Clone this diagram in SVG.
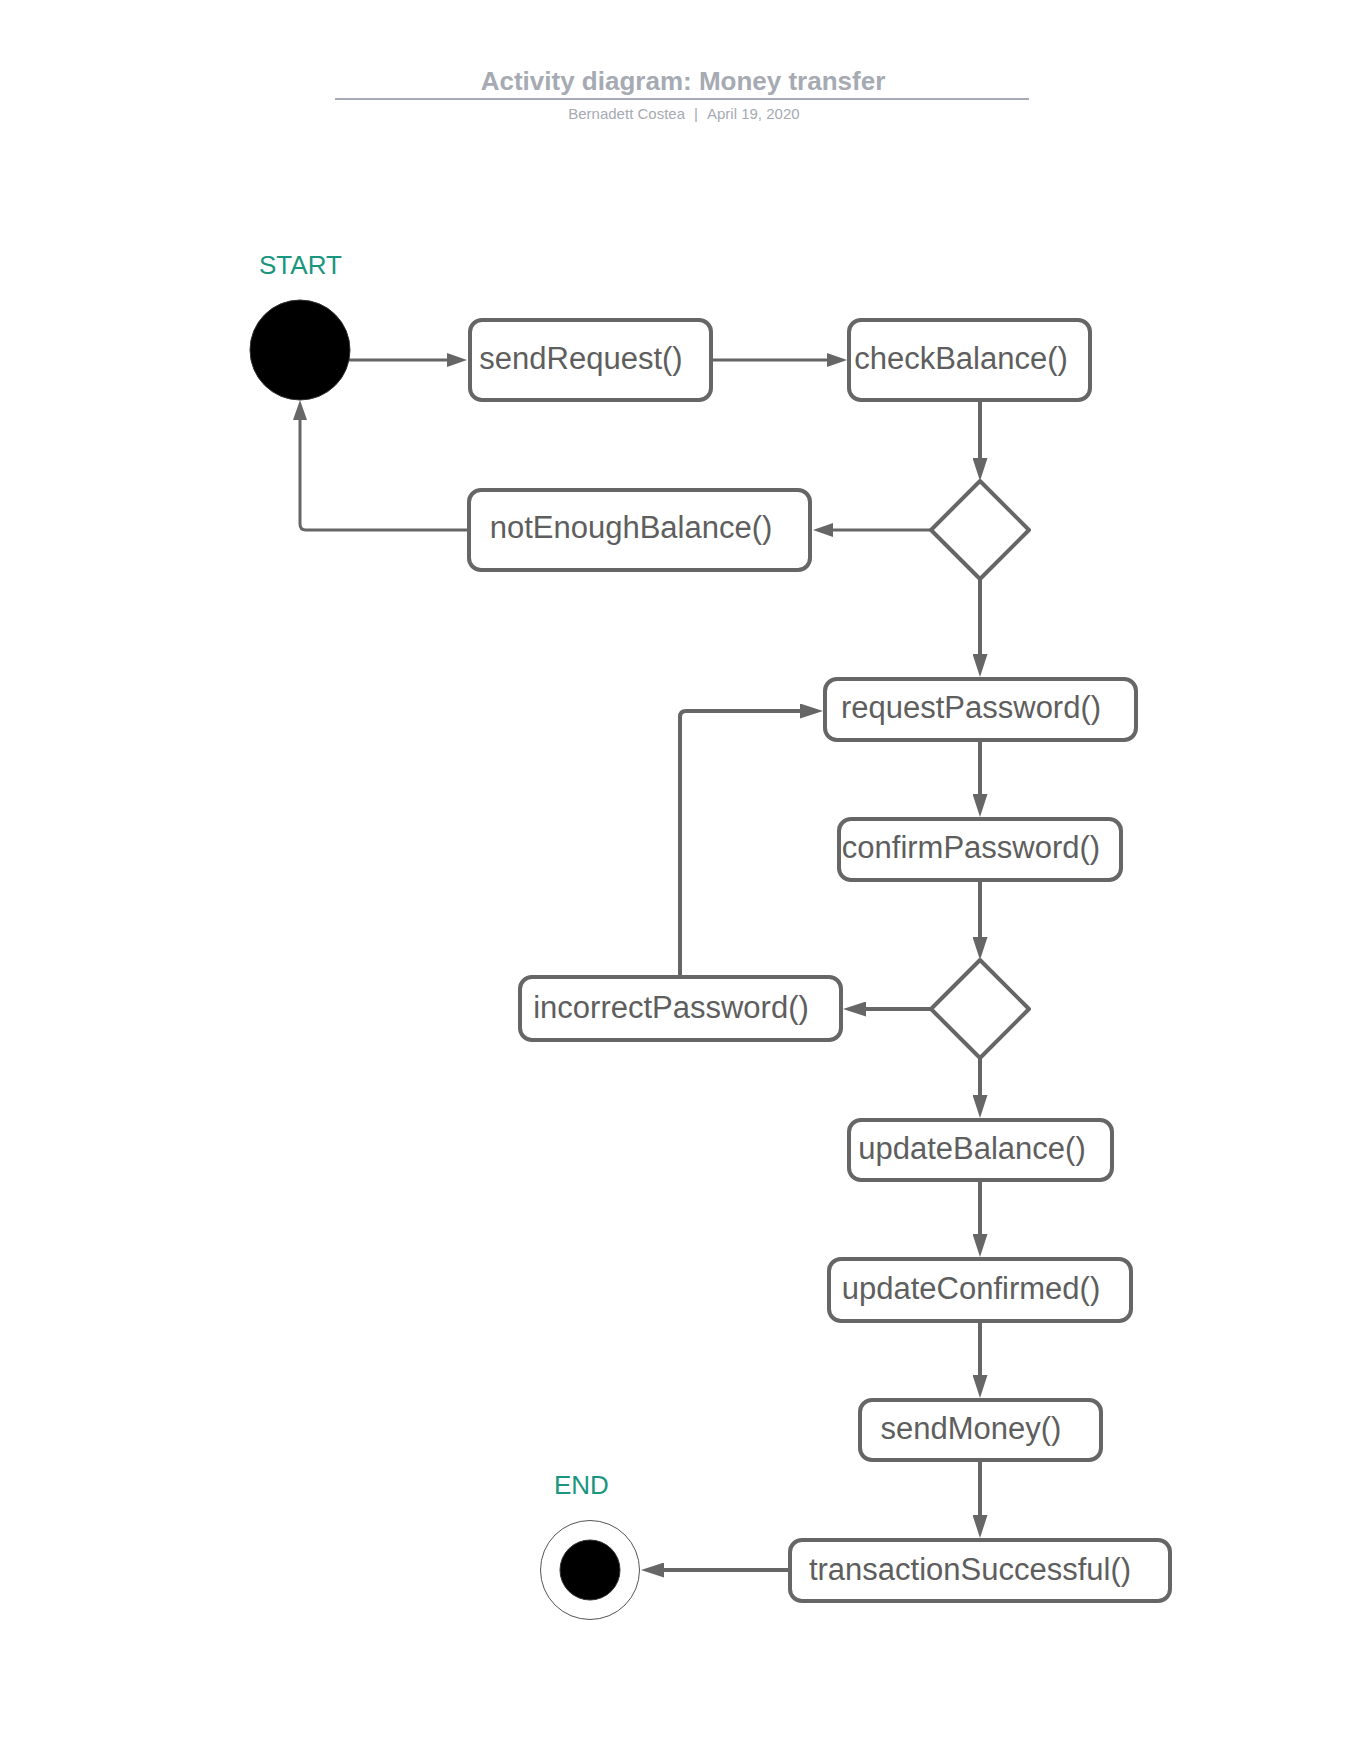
<svg xmlns="http://www.w3.org/2000/svg" width="1360" height="1760" viewBox="0 0 1360 1760">
  <style>
    .title { font-family: "Liberation Sans", Arial, sans-serif; font-size: 26px; font-weight: bold; fill: #a6aab3; }
    .sub { font-family: "Liberation Sans", Arial, sans-serif; font-size: 15px; fill: #a6aab3; }
    .tag { font-family: "Liberation Sans", Arial, sans-serif; font-size: 26px; fill: #19967d; }
    .box { fill: #ffffff; stroke: #666666; stroke-width: 4; }
    .dec { fill: #ffffff; stroke: #666666; stroke-width: 4; stroke-linejoin: round; }
    .lbl { font-family: "Liberation Sans", Arial, sans-serif; font-size: 31px; fill: #5e5e5e; text-anchor: middle; }
    .edge { fill: none; stroke: #666666; stroke-width: 3; marker-end: url(#arrow); }
    .edge.heavy { stroke-width: 4; marker-end: url(#arrowHeavy); }
  </style>
  <defs>
    <!-- tip sits 10px past the path end -->
    <marker id="arrow" viewBox="0 0 20 14" refX="10" refY="7" markerWidth="20" markerHeight="14" markerUnits="userSpaceOnUse" orient="auto">
      <path d="M0,0 L20,7 L0,14 z" fill="#666666"/>
    </marker>
    <marker id="arrowHeavy" viewBox="0 0 23 15" refX="13" refY="7.5" markerWidth="23" markerHeight="15" markerUnits="userSpaceOnUse" orient="auto">
      <path d="M0,0 L23,7.5 L0,15 z" fill="#666666"/>
    </marker>
  </defs>

  <rect width="1360" height="1760" fill="#ffffff"/>

  <!-- header -->
  <g id="header">
    <text class="title" x="683" y="90" text-anchor="middle">Activity diagram: Money transfer</text>
    <line x1="335" y1="99" x2="1029" y2="99" stroke="#a6aab3" stroke-width="2"/>
    <text class="sub" x="685" y="119" text-anchor="end">Bernadett Costea</text>
    <text class="sub" x="696" y="119" text-anchor="middle">|</text>
    <text class="sub" x="707" y="119" text-anchor="start">April 19, 2020</text>
  </g>

  <!-- connectors -->
  <g id="connectors">
    <path class="edge" d="M349,360 H457"/>
    <path class="edge" d="M711,360 H837"/>
    <path class="edge heavy" d="M980,400 V471"/>
    <path class="edge" d="M931,530 H823"/>
    <path class="edge" d="M469,530 H306 Q300,530 300,524 V410"/>
    <path class="edge heavy" d="M980,579 V667"/>
    <path class="edge heavy" d="M980,740 V807"/>
    <path class="edge heavy" d="M980,880 V950"/>
    <path class="edge heavy" d="M931,1009 H853"/>
    <path class="edge heavy" d="M680,977 V717 Q680,711 686,711 H813"/>
    <path class="edge heavy" d="M980,1058 V1108"/>
    <path class="edge heavy" d="M980,1180 V1247"/>
    <path class="edge heavy" d="M980,1321 V1388"/>
    <path class="edge heavy" d="M980,1460 V1528"/>
    <path class="edge heavy" d="M790,1570 H651"/>
  </g>

  <!-- start -->
  <g id="start">
    <text class="tag" x="259" y="274">START</text>
    <circle cx="300" cy="350" r="50" fill="#000000" stroke="#333333" stroke-width="1"/>
  </g>

  <g id="sendRequest">
    <rect class="box" x="470" y="320" width="241" height="80" rx="12"/>
    <text class="lbl" x="581" y="369">sendRequest()</text>
  </g>

  <g id="checkBalance">
    <rect class="box" x="849" y="320" width="241" height="80" rx="12"/>
    <text class="lbl" x="961" y="369">checkBalance()</text>
  </g>

  <g id="balanceDecision">
    <polygon class="dec" points="980,481 1029,530 980,579 931,530"/>
  </g>

  <g id="notEnoughBalance">
    <rect class="box" x="469" y="490" width="341" height="80" rx="12"/>
    <text class="lbl" x="631" y="538">notEnoughBalance()</text>
  </g>

  <g id="requestPassword">
    <rect class="box" x="825" y="679" width="311" height="61" rx="12"/>
    <text class="lbl" x="971" y="718">requestPassword()</text>
  </g>

  <g id="confirmPassword">
    <rect class="box" x="839" y="819" width="282" height="61" rx="12"/>
    <text class="lbl" x="971" y="858">confirmPassword()</text>
  </g>

  <g id="passwordDecision">
    <polygon class="dec" points="980,960 1029,1009 980,1058 931,1009"/>
  </g>

  <g id="incorrectPassword">
    <rect class="box" x="520" y="977" width="321" height="63" rx="12"/>
    <text class="lbl" x="671" y="1018">incorrectPassword()</text>
  </g>

  <g id="updateBalance">
    <rect class="box" x="849" y="1120" width="263" height="60" rx="12"/>
    <text class="lbl" x="972" y="1159">updateBalance()</text>
  </g>

  <g id="updateConfirmed">
    <rect class="box" x="829" y="1259" width="302" height="62" rx="12"/>
    <text class="lbl" x="971" y="1299">updateConfirmed()</text>
  </g>

  <g id="sendMoney">
    <rect class="box" x="860" y="1400" width="241" height="60" rx="12"/>
    <text class="lbl" x="971" y="1439">sendMoney()</text>
  </g>

  <g id="transactionSuccessful">
    <rect class="box" x="790" y="1540" width="380" height="61" rx="12"/>
    <text class="lbl" x="970" y="1580">transactionSuccessful()</text>
  </g>

  <!-- end -->
  <g id="end">
    <text class="tag" x="554" y="1494">END</text>
    <circle cx="590" cy="1570" r="49.5" fill="#ffffff" stroke="#555555" stroke-width="1"/>
    <circle cx="590" cy="1570" r="30" fill="#000000" stroke="#333333" stroke-width="1"/>
  </g>
</svg>
